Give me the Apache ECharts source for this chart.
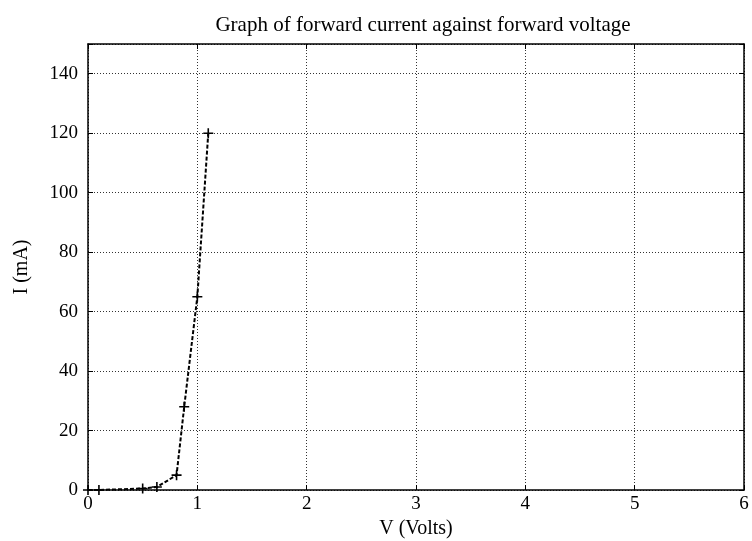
<!DOCTYPE html>
<html>
<head>
<meta charset="utf-8">
<script src="https://cdn.jsdelivr.net/npm/echarts@6/dist/echarts.min.js"></script>
<style>html,body{margin:0;padding:0;background:#fff;}#c{width:752px;height:541px;}</style>
</head>
<body>
<div id="c"></div>
<script>
const voltage = [0, 0.1, 0.5, 0.63, 0.81, 0.88, 1.0, 1.1];
const current = [0, 0, 0.5, 1, 5, 28, 65, 120];
const xTicks = [0, 1, 2, 3, 4, 5, 6];
const yTicks = [0, 20, 40, 60, 80, 100, 120, 140];

const font = 'Liberation Serif';
const chart = echarts.init(document.getElementById('c'));
const gridLine = {show: true, lineStyle: {color: '#333', type: [1, 2], width: 1}};
const frame = {show: true, onZero: false, lineStyle: {color: '#000', width: 1.5}};
const ticks = {show: true, inside: true, length: 5, lineStyle: {color: '#000'}};
chart.setOption({
  backgroundColor: '#fff',
  animation: false,
  title: {
    text: 'Graph of forward current against forward voltage',
    left: 418, top: 10, textAlign: 'center',
    textStyle: {fontFamily: font, fontSize: 21, fontWeight: 'normal', color: '#000'}
  },
  grid: {left: 88, right: 8, top: 44, bottom: 51, containLabel: false, outerBoundsMode: 'none'},
  xAxis: [{
    type: 'value', min: 0, max: 6, interval: 1,
    name: 'V (Volts)', nameLocation: 'middle', nameGap: 25,
    nameTextStyle: {fontFamily: font, fontSize: 20, color: '#000'},
    axisLine: frame, axisTick: ticks,
    axisLabel: {fontFamily: font, fontSize: 19, color: '#000', margin: 5,
      formatter: v => xTicks.includes(v) ? String(v) : ''},
    splitLine: gridLine
  }, {
    type: 'value', min: 0, max: 6, interval: 1, position: 'top',
    axisLine: frame, axisTick: ticks,
    axisLabel: {show: false}, splitLine: {show: false}
  }],
  yAxis: [{
    type: 'value', min: 0, max: 150, interval: 20,
    name: 'I (mA)', nameLocation: 'middle', nameGap: 56,
    nameTextStyle: {fontFamily: font, fontSize: 20, color: '#000'},
    axisLine: frame, axisTick: ticks,
    axisLabel: {fontFamily: font, fontSize: 19, color: '#000', margin: 10,
      formatter: v => yTicks.includes(v) ? String(v) : ''},
    splitLine: gridLine
  }, {
    type: 'value', min: 0, max: 150, interval: 20, position: 'right',
    axisLine: frame, axisTick: ticks,
    axisLabel: {show: false}, splitLine: {show: false}
  }],
  series: [{
    type: 'line',
    data: voltage.map((v, i) => [v, current[i]]),
    symbol: 'path://M4.2,0H5.8V4.2H10V5.8H5.8V10H4.2V5.8H0V4.2H4.2Z',
    symbolSize: 10,
    showAllSymbol: true,
    itemStyle: {color: '#000'},
    lineStyle: {color: '#000', width: 2, type: [4, 2]}
  }]
});
</script>
</body>
</html>
